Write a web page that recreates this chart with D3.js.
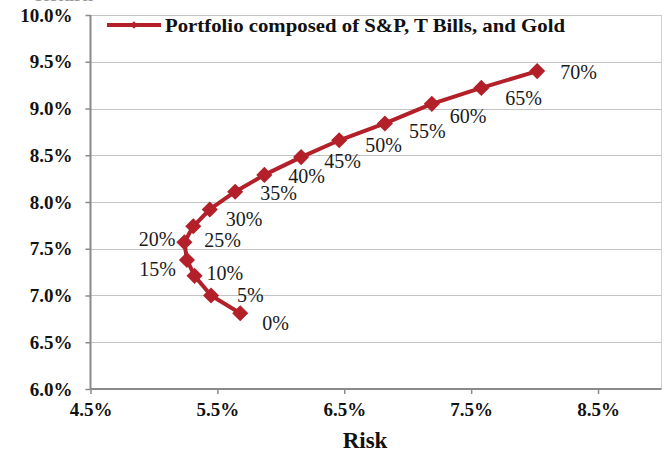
<!DOCTYPE html>
<html>
<head>
<meta charset="utf-8">
<script src="https://cdn.jsdelivr.net/npm/d3@7"></script>
<style>
  html, body { margin: 0; padding: 0; background: #fff; }
  svg { display: block; font-family: "Liberation Serif", "Times New Roman", serif; }
</style>
</head>
<body>
<svg id="chart" width="665" height="454"></svg>
<script>
// ---- data ----
const weights = ["0%", "5%", "10%", "15%", "20%", "25%", "30%", "35%", "40%", "45%", "50%", "55%", "60%", "65%", "70%"];
const risk = [0.0568, 0.0545, 0.0532, 0.0526, 0.0524, 0.0531, 0.0544, 0.0564, 0.0587, 0.0616, 0.0646, 0.0682, 0.0719, 0.0758, 0.0802];
const ret  = [0.0681, 0.0700, 0.0721, 0.0738, 0.0757, 0.0774, 0.0792, 0.0811, 0.0829, 0.0848, 0.0866, 0.0884, 0.0905, 0.0922, 0.0940];
const xTicks = [0.045, 0.055, 0.065, 0.075, 0.085];
const yTicks = [0.060, 0.065, 0.070, 0.075, 0.080, 0.085, 0.090, 0.095, 0.100];
const seriesName = "Portfolio composed of S&P, T Bills, and Gold";
const xTitle = "Risk";
const yTitle = "Return";

// ---- layout (label nudges: [dx, dy, anchor]) ----
const labelNudge = [
  [22, 10, "start"], [26, -1, "start"], [12, -3, "start"], [-11, 9, "end"], [-9, -3, "end"],
  [11, 14, "start"], [16, 10, "start"], [25, 1, "start"], [24, 1, "start"], [23, 4, "start"],
  [26, 5, "start"], [24, 8, "start"], [18, 12, "start"], [24, 10, "start"], [23, 1, "start"]
];

const W = 665, H = 454;
const m = { left: 90.5, right: 3.5, top: 15, bottom: 65 };
const color = "#b3202a";

const svg = d3.select("#chart");
const x = d3.scaleLinear().domain([0.045, 0.09]).range([m.left, W - m.right]);
const y = d3.scaleLinear().domain([0.06, 0.10]).range([H - m.bottom, m.top]);
const fmt = d3.format(".1%");

// plot border (right side light)
svg.append("line")
  .attr("x1", W - m.right).attr("x2", W - m.right)
  .attr("y1", m.top).attr("y2", H - m.bottom)
  .attr("stroke", "#d0d0d0").attr("stroke-width", 1);

// gridlines
svg.append("g").selectAll("line").data(yTicks.slice(1)).join("line")
  .attr("x1", m.left).attr("x2", W - m.right)
  .attr("y1", d => Math.round(y(d)) + 0.5).attr("y2", d => Math.round(y(d)) + 0.5)
  .attr("stroke", "#c4c4c4").attr("stroke-width", 1.2);

// y axis
const yAxis = svg.append("g").attr("transform", `translate(${m.left},0)`)
  .call(d3.axisLeft(y).tickValues(yTicks).tickFormat(fmt).tickSize(5).tickPadding(13));
// x axis
const xAxis = svg.append("g").attr("transform", `translate(0,${H - m.bottom})`)
  .call(d3.axisBottom(x).tickValues(xTicks).tickFormat(fmt).tickSize(5).tickPadding(9));

[yAxis, xAxis].forEach(g => {
  g.select(".domain").attr("stroke", "#8a8a8a").attr("stroke-width", 2);
  g.selectAll(".tick line").attr("stroke", "#8a8a8a").attr("stroke-width", 1.5);
  g.selectAll(".tick text")
    .attr("fill", "#111").attr("font-size", 19).attr("font-weight", "bold")
    .attr("font-family", "'Liberation Serif', 'Times New Roman', serif");
});
xAxis.select(".domain").attr("d", `M${m.left},0H${W - m.right}`);
yAxis.select(".domain").attr("d", `M0,${H - m.bottom}V${m.top}`);

// axis titles
svg.append("text")
  .attr("x", 365).attr("y", 448)
  .attr("text-anchor", "middle")
  .attr("font-size", 23).attr("font-weight", "bold").attr("fill", "#111")
  .text(xTitle);
svg.append("text")
  .attr("x", 64).attr("y", 1)
  .attr("text-anchor", "middle")
  .attr("font-size", 19).attr("font-weight", "bold").attr("fill", "#999")
  .text(yTitle);

// line
const pts = risk.map((r, i) => ({ x: r, y: ret[i], label: weights[i], nudge: labelNudge[i] }));
svg.append("path")
  .datum(pts)
  .attr("fill", "none").attr("stroke", color).attr("stroke-width", 4)
  .attr("stroke-linejoin", "round")
  .attr("d", d3.line().x(d => x(d.x)).y(d => y(d.y)));

// markers
const diamond = d3.symbol().type(d3.symbolDiamond2).size(150);
svg.append("g").selectAll("path").data(pts).join("path")
  .attr("transform", d => `translate(${x(d.x)},${y(d.y)}) rotate(45)`)
  .attr("d", d3.symbol().type(d3.symbolSquare).size(130))
  .attr("fill", color);

// data labels
svg.append("g").selectAll("text").data(pts).join("text")
  .attr("x", d => x(d.x) + d.nudge[0])
  .attr("y", d => y(d.y) + d.nudge[1])
  .attr("text-anchor", d => d.nudge[2])
  .attr("dominant-baseline", "central")
  .attr("font-size", 20).attr("fill", "#1a1a1a")
  .text(d => d.label);

// legend
const lg = svg.append("g");
lg.append("line").attr("x1", 107).attr("x2", 161).attr("y1", 25).attr("y2", 25)
  .attr("stroke", color).attr("stroke-width", 4);
lg.append("path").attr("transform", "translate(134,25) rotate(45)")
  .attr("d", d3.symbol().type(d3.symbolSquare).size(28)).attr("fill", color);
lg.append("text").attr("x", 165).attr("y", 25)
  .attr("dominant-baseline", "central")
  .attr("font-size", 19).attr("font-weight", "bold").attr("fill", "#111")
  .attr("textLength", 400).attr("lengthAdjust", "spacingAndGlyphs")
  .text(seriesName);
</script>
</body>
</html>
